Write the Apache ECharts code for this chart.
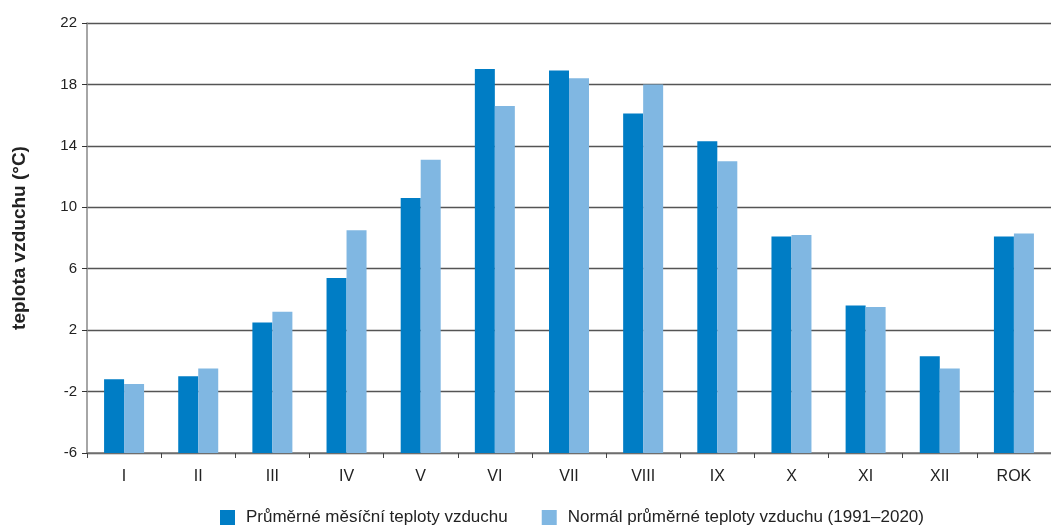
<!DOCTYPE html>
<html><head><meta charset="utf-8">
<script src="https://cdn.jsdelivr.net/npm/echarts@6/dist/echarts.min.js"></script>
<style>html,body{margin:0;padding:0;background:#fff}#c{width:1051px;height:526px}</style>
</head><body><div id="c"></div>
<script>
const categories = ['I','II','III','IV','V','VI','VII','VIII','IX','X','XI','XII','ROK'];
const monthly = [-1.2, -1.0, 2.5, 5.4, 10.6, 19.0, 18.9, 16.1, 14.3, 8.1, 3.6, 0.3, 8.1];
const normal = [-1.5, -0.5, 3.2, 8.5, 13.1, 16.6, 18.4, 18.0, 13.0, 8.2, 3.5, -0.5, 8.3];
const seriesNames = ['Průměrné měsíční teploty vzduchu', 'Normál průměrné teploty vzduchu (1991–2020)'];
const yTitle = 'teplota vzduchu (°C)';
const axisMin = -6, axisMax = 22, axisStep = 4;
// bars in the reference grow from the axis bottom (-6), so plot on an axis shifted by axisMin
const shift = v => v - axisMin;
const font = '"Liberation Sans Narrow", "Liberation Sans", sans-serif';
const chart = echarts.init(document.getElementById('c'));
chart.setOption({
  animation: false,
  textStyle: {fontFamily: font},
  grid: {left: 87, top: 23, width: 975, bottom: 73},
  legend: {
    bottom: -5, left: 215, itemWidth: 15, itemHeight: 15, itemGap: 34, icon: 'rect',
    textStyle: {fontFamily: font, fontSize: 17, color: '#222', padding: [0, 0, 0, 6]},
    data: seriesNames
  },
  xAxis: {
    type: 'category', data: categories,
    axisLine: {lineStyle: {color: '#777', width: 1.5}},
    axisTick: {show: true, length: 5, lineStyle: {color: '#444'}},
    axisLabel: {fontFamily: font, fontSize: 16, color: '#222', margin: 16}
  },
  yAxis: {
    type: 'value', min: 0, max: shift(axisMax), interval: axisStep,
    name: yTitle, nameLocation: 'middle', nameGap: 58, nameRotate: 90,
    nameTextStyle: {fontFamily: font, fontSize: 19, fontWeight: 'bold', color: '#222'},
    axisLine: {show: true, lineStyle: {color: '#888', width: 1.5}},
    axisTick: {show: true, length: 5, lineStyle: {color: '#333'}},
    axisLabel: {fontFamily: font, fontSize: 15, color: '#222', margin: 10,
      formatter: v => String(v + axisMin)},
    splitLine: {lineStyle: {color: '#555', width: 1.3}}
  },
  series: [
    {name: seriesNames[0], type: 'bar', data: monthly.map(shift), barWidth: 20, barGap: '0%',
     itemStyle: {color: '#007DC5'}},
    {name: seriesNames[1], type: 'bar', data: normal.map(shift), barWidth: 20,
     itemStyle: {color: '#80B7E2'}}
  ]
});
</script></body></html>
